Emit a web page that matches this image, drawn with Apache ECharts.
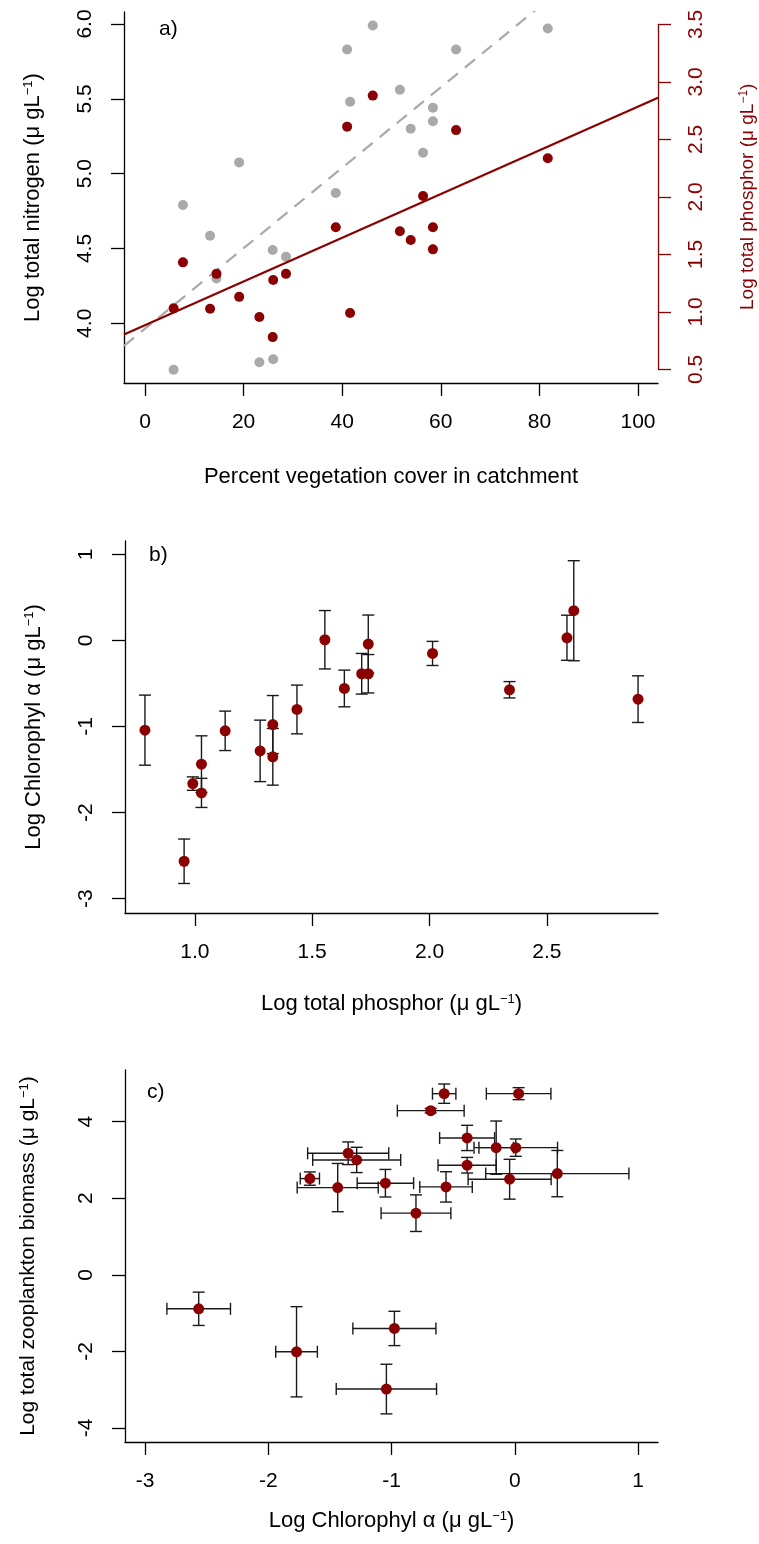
<!DOCTYPE html>
<html>
<head>
<meta charset="utf-8">
<script src="https://cdn.jsdelivr.net/npm/echarts@6/dist/echarts.min.js"></script>
<style>
  html, body { margin: 0; padding: 0; background: #fff; }
  #chart { width: 759px; height: 1544px; }
</style>
</head>
<body>
<div id="chart"></div>
<script>
// ---- panel a: vegetation cover vs nutrients ----
var vegCover   = [5.8, 7.7, 13.2, 14.5, 19.1, 23.2, 25.9, 26.0, 28.6, 38.7, 41.0, 41.6, 46.2, 51.7, 53.9, 56.4, 58.4, 58.4, 63.1, 81.7];
var logTN      = [3.69, 4.79, 4.585, 4.30, 5.075, 3.74, 4.49, 3.76, 4.445, 4.87, 5.83, 5.48, 5.99, 5.56, 5.30, 5.14, 5.44, 5.35, 5.83, 5.97];
var logTPa     = [1.03, 1.43, 1.027, 1.33, 1.13, 0.955, 0.78, 1.277, 1.33, 1.735, 2.61, 0.99, 2.88, 1.70, 1.625, 2.007, 1.735, 1.543, 2.58, 2.335];
// fitted lines (intercept, slope)
var fitTN = [3.964, 0.02688];
var fitTP = [0.884, 0.0190];

// ---- panel b / c: per lake ----
var logTP   = [0.787, 0.954, 0.991, 1.028, 1.028, 1.129, 1.278, 1.332, 1.332, 1.435, 1.554, 1.637, 1.711, 1.739, 1.739, 2.013, 2.341, 2.586, 2.615, 2.889];
var logChl  = [-1.042, -2.565, -1.663, -1.437, -1.771, -1.05, -1.283, -0.977, -1.352, -0.802, 0.008, -0.558, -0.387, -0.387, -0.042, -0.151, -0.573, 0.031, 0.345, -0.682];
var chlErr  = [0.407, 0.258, 0.078, 0.329, 0.169, 0.229, 0.357, 0.337, 0.329, 0.283, 0.339, 0.213, 0.236, 0.223, 0.337, 0.14, 0.095, 0.262, 0.581, 0.271];
var logZoo  = [-2.983, -0.887, 2.513, 2.278, -2.009, 2.392, 3.0, -1.40, 3.174, 1.61, 3.32, 2.296, 2.862, 3.574, 2.496, 3.32, 4.73, 4.73, 2.643, 4.287];
var zooErr  = [0.648, 0.435, 0.174, 0.63, 1.178, 0.36, 0.33, 0.448, 0.296, 0.478, 0.226, 0.396, 0.204, 0.33, 0.52, 0.696, 0.252, 0.157, 0.604, 0.06];

// tick labels
var ticksVeg = [0, 20, 40, 60, 80, 100];
var ticksTN  = [4.0, 4.5, 5.0, 5.5, 6.0];
var ticksTP  = [0.5, 1.0, 1.5, 2.0, 2.5, 3.0, 3.5];
var ticksTPx = [1.0, 1.5, 2.0, 2.5];
var ticksChl = [-3, -2, -1, 0, 1];
var ticksZoo = [-4, -2, 0, 2, 4];

var RED = '#8B0000', GREY = '#A9A9A9';
var FONT = 'Liberation Sans, Arial, Helvetica, sans-serif';
var FS = 21;

var myChart = echarts.init(document.getElementById('chart'), null, { renderer: 'canvas' });

function zip(a, b, c) {
  var out = [];
  for (var i = 0; i < a.length; i++) out.push(c ? [a[i], b[i], c[i]] : [a[i], b[i]]);
  return out;
}

// error bar drawer, dir 'v' or 'h'
function errBars(dir) {
  return function (params, api) {
    var x = api.value(0), y = api.value(1), e = api.value(2);
    var p1, p2, cap = 6, st = { stroke: '#1a1a1a', lineWidth: 1.4 };
    if (dir === 'v') {
      p1 = api.coord([x, y - e]); p2 = api.coord([x, y + e]);
      return { type: 'group', children: [
        { type: 'line', shape: { x1: p1[0], y1: p1[1], x2: p2[0], y2: p2[1] }, style: st },
        { type: 'line', shape: { x1: p1[0] - cap, y1: p1[1], x2: p1[0] + cap, y2: p1[1] }, style: st },
        { type: 'line', shape: { x1: p2[0] - cap, y1: p2[1], x2: p2[0] + cap, y2: p2[1] }, style: st }
      ]};
    }
    p1 = api.coord([x - e, y]); p2 = api.coord([x + e, y]);
    return { type: 'group', children: [
      { type: 'line', shape: { x1: p1[0], y1: p1[1], x2: p2[0], y2: p2[1] }, style: st },
      { type: 'line', shape: { x1: p1[0], y1: p1[1] - cap, x2: p1[0], y2: p1[1] + cap }, style: st },
      { type: 'line', shape: { x1: p2[0], y1: p2[1] - cap, x2: p2[0], y2: p2[1] + cap }, style: st }
    ]};
  };
}

function supRich(color, size) {
  return { sup: { fontSize: size, verticalAlign: 'top', lineHeight: size, color: color, fontFamily: FONT } };
}
function xAx(grid, min, max, ticks, fmt, name, gap, labMargin) {
  return {
    type: 'value', gridIndex: grid, min: min, max: max,
    splitLine: { show: false },
    axisLine: { show: true, onZero: false, lineStyle: { color: '#000', width: 1.3 } },
    axisTick: { show: true, length: 13, customValues: ticks, lineStyle: { color: '#000', width: 1.3 } },
    axisLabel: { customValues: ticks, formatter: fmt, margin: labMargin, fontSize: FS, color: '#000', fontFamily: FONT },
    name: name, nameLocation: 'middle', nameGap: gap,
    nameTextStyle: { fontSize: 22, color: '#000', fontFamily: FONT, rich: supRich('#000', 13) }
  };
}
function yAx(grid, min, max, ticks, fmt, name, gap, nameSize) {
  return {
    type: 'value', gridIndex: grid, min: min, max: max,
    splitLine: { show: false },
    axisLine: { show: true, onZero: false, lineStyle: { color: '#000', width: 1.3 } },
    axisTick: { show: true, length: 13, customValues: ticks, lineStyle: { color: '#000', width: 1.3 } },
    axisLabel: { customValues: ticks, formatter: fmt, rotate: 90, margin: 28, fontSize: FS, color: '#000', fontFamily: FONT },
    name: name, nameLocation: 'middle', nameGap: gap, nameRotate: 90,
    nameTextStyle: { fontSize: nameSize, color: '#000', fontFamily: FONT, rich: supRich('#000', 13) }
  };
}
var f1 = function (v) { return v.toFixed(1); };
var f0 = function (v) { return String(v); };

var vegMin = -4.26, vegMax = 104.06;
var fitLineTN = [[vegMin, fitTN[0] + fitTN[1] * vegMin], [vegMax, fitTN[0] + fitTN[1] * vegMax]];
var fitLineTP = [[vegMin, fitTP[0] + fitTP[1] * vegMin], [vegMax, fitTP[0] + fitTP[1] * vegMax]];

var rightY = yAx(1, 0.5, 3.5, ticksTP, f1, 'Log total phosphor (μ gL{sup|−1})', 80, 19);
rightY.position = 'right';
rightY.axisLine.lineStyle.color = RED;
rightY.axisTick.lineStyle.color = RED;
rightY.axisLabel.color = RED;
rightY.nameTextStyle.color = RED;
rightY.nameTextStyle.rich = supRich(RED, 12);

var gridBase = { outerBoundsMode: 'none', containLabel: false };
function grid(l, t, w, h) { return Object.assign({ left: l, top: t, width: w, height: h }, gridBase); }

var option = {
  animation: false,
  backgroundColor: '#fff',
  textStyle: { fontFamily: FONT },
  grid: [
    grid(124, 12, 534, 371),
    grid(124, 24.3, 534, 345),
    grid(125, 541, 533, 372),
    grid(125, 1070, 533, 372)
  ],
  xAxis: [
    xAx(0, vegMin, vegMax, ticksVeg, f0, 'Percent vegetation cover in catchment', 83, 29),
    { type: 'value', gridIndex: 1, min: vegMin, max: vegMax, show: false },
    xAx(2, 0.702, 2.974, ticksTPx, f1, 'Log total phosphor (μ gL{sup|−1})', 80, 29),
    xAx(3, -3.163, 1.162, ticksChl, f0, 'Log Chlorophyl α (μ gL{sup|−1})', 68, 29)
  ],
  yAxis: [
    yAx(0, 3.601, 6.08, ticksTN, f1, 'Log total nitrogen (μ gL{sup|−1})', 80, 22),
    rightY,
    yAx(2, -3.166, 1.155, ticksChl, f0, 'Log Chlorophyl α (μ gL{sup|−1})', 80, 22),
    yAx(3, -4.365, 5.348, ticksZoo, f0, 'Log total zooplankton biomass (μ gL{sup|−1})', 86, 21)
  ],
  graphic: [
    { type: 'text', left: 159, top: 19, style: { text: 'a)', font: FS + 'px ' + FONT, fill: '#000' } },
    { type: 'text', left: 149, top: 545, style: { text: 'b)', font: FS + 'px ' + FONT, fill: '#000' } },
    { type: 'text', left: 147, top: 1082, style: { text: 'c)', font: FS + 'px ' + FONT, fill: '#000' } }
  ],
  series: [
    { type: 'line', xAxisIndex: 0, yAxisIndex: 0, data: fitLineTN, showSymbol: false, symbol: 'none',
      lineStyle: { color: GREY, width: 2.2, type: [13, 9] }, z: 1 },
    { type: 'scatter', xAxisIndex: 0, yAxisIndex: 0, data: zip(vegCover, logTN), symbolSize: 10,
      itemStyle: { color: GREY, opacity: 1 }, z: 2 },
    { type: 'line', xAxisIndex: 1, yAxisIndex: 1, data: fitLineTP, showSymbol: false, symbol: 'none',
      lineStyle: { color: RED, width: 2.2 }, z: 3 },
    { type: 'scatter', xAxisIndex: 1, yAxisIndex: 1, data: zip(vegCover, logTPa), symbolSize: 10,
      itemStyle: { color: RED, opacity: 1 }, z: 4 },

    { type: 'custom', xAxisIndex: 2, yAxisIndex: 2, renderItem: errBars('v'),
      data: zip(logTP, logChl, chlErr), encode: { x: 0, y: 1 }, z: 2 },
    { type: 'scatter', xAxisIndex: 2, yAxisIndex: 2, data: zip(logTP, logChl), symbolSize: 11,
      itemStyle: { color: RED, opacity: 1 }, z: 4 },

    { type: 'custom', xAxisIndex: 3, yAxisIndex: 3, renderItem: errBars('v'),
      data: zip(logChl, logZoo, zooErr), encode: { x: 0, y: 1 }, z: 2 },
    { type: 'custom', xAxisIndex: 3, yAxisIndex: 3, renderItem: errBars('h'),
      data: zip(logChl, logZoo, chlErr), encode: { x: 0, y: 1 }, z: 2 },
    { type: 'scatter', xAxisIndex: 3, yAxisIndex: 3, data: zip(logChl, logZoo), symbolSize: 11,
      itemStyle: { color: RED, opacity: 1 }, z: 4 }
  ]
};

myChart.setOption(option);
</script>
</body>
</html>
